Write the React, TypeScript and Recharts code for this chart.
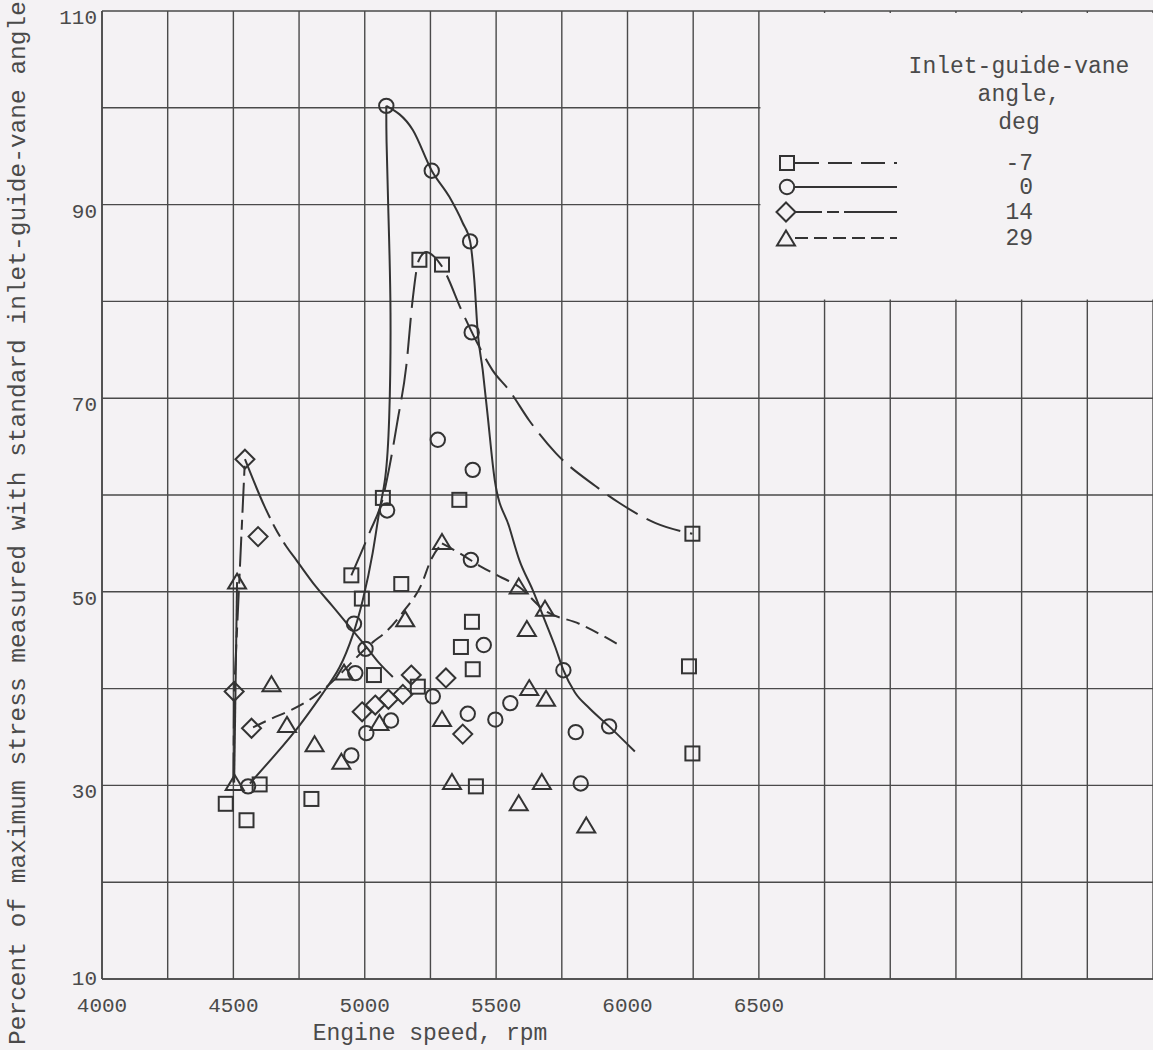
import React from 'react';
import { ComposedChart, Line, Scatter, XAxis, YAxis, CartesianGrid, ReferenceArea } from 'recharts';

// ---------- axis ticks ----------
const X_TICKS = [4000, 4250, 4500, 4750, 5000, 5250, 5500, 5750, 6000, 6250, 6500, 6750, 7000, 7250, 7500, 7750];
const X_LABELS = [4000, 4500, 5000, 5500, 6000, 6500];
const Y_TICKS = [10, 20, 30, 40, 50, 60, 70, 80, 90, 100, 110];
const Y_LABELS = [10, 30, 50, 70, 90, 110];

// ---------- measured points [rpm, percent] ----------
const SQUARE_POINTS: [number, number][] = [
  [4471, 28.1], [4550, 26.4], [4600, 30.1], [4797, 28.6], [4949, 51.7], [4989, 49.3],
  [5069, 59.7], [5035, 41.4], [5139, 50.8], [5202, 40.2], [5208, 84.3], [5294, 83.8],
  [5360, 59.5], [5408, 46.9], [5366, 44.3], [5411, 42.0], [5423, 29.9], [6247, 56.0],
  [6234, 42.3], [6247, 33.3],
];
const CIRCLE_POINTS: [number, number][] = [
  [4556, 29.9], [4949, 33.1], [5006, 35.4], [5100, 36.7], [4964, 41.6], [4959, 46.7],
  [5003, 44.1], [5085, 58.4], [5082, 100.2], [5255, 93.5], [5401, 86.2], [5407, 76.8],
  [5278, 65.7], [5411, 62.6], [5404, 53.3], [5453, 44.5], [5259, 39.2], [5392, 37.4],
  [5497, 36.8], [5554, 38.5], [5756, 41.9], [5803, 35.5], [5930, 36.1], [5822, 30.2],
];
const DIAMOND_POINTS: [number, number][] = [
  [4544, 63.7], [4594, 55.7], [4503, 39.7], [4569, 35.9], [4990, 37.6], [5040, 38.3],
  [5090, 38.9], [5145, 39.4], [5177, 41.4], [5309, 41.1], [5373, 35.3],
];
const TRIANGLE_POINTS: [number, number][] = [
  [4505, 30.2], [4514, 51.0], [4645, 40.4], [4704, 36.2], [4809, 34.2], [4911, 32.4],
  [4921, 41.6], [5056, 36.4], [5154, 47.1], [5294, 55.1], [5294, 36.8], [5332, 30.3],
  [5586, 50.5], [5686, 48.2], [5617, 46.1], [5626, 40.0], [5690, 38.9], [5586, 28.1],
  [5674, 30.3], [5843, 25.8],
];

// ---------- faired curves [rpm, percent] ----------
const CURVE_M7: [number, number][] = [
  [4949, 51.7], [5018, 56.1], [5069, 59.7], [5094, 62.9], [5125, 67.7], [5158, 73.3],
  [5182, 80.1], [5205, 84.2], [5234, 85.1], [5265, 84.6], [5294, 83.6], [5373, 78.8],
  [5436, 75.3], [5486, 72.9], [5550, 70.8], [5626, 67.7], [5728, 64.3], [5879, 60.9],
  [5968, 59.2], [6107, 57.1], [6247, 56.0],
];
const CURVE_0_LEFT: [number, number][] = [
  [4563, 30.2], [4657, 33.1], [4752, 36.2], [4840, 39.5], [4904, 42.2], [4954, 45.5],
  [4993, 49.2], [5030, 54.0], [5056, 58.4], [5078, 61.8], [5093, 68.0], [5098, 78.8],
  [5090, 89.1], [5083, 96.5], [5082, 100.2],
];
const CURVE_0_RIGHT: [number, number][] = [
  [5082, 100.2], [5183, 97.7], [5255, 93.5], [5322, 90.8], [5373, 88.1], [5401, 86.2],
  [5417, 82.2], [5430, 76.8], [5449, 72.9], [5467, 68.4], [5495, 61.5], [5550, 56.7],
  [5588, 53.3], [5639, 50.2], [5686, 47.0], [5725, 44.3], [5756, 41.9], [5800, 39.6],
  [5854, 38.0], [5930, 36.1], [6028, 33.5],
];
const CURVE_14_RISE: [number, number][] = [[4500, 30.3], [4503, 39.7], [4544, 63.7]];
const CURVE_14_FALL: [number, number][] = [
  [4544, 63.7], [4619, 58.8], [4657, 56.7], [4701, 54.7], [4739, 53.3], [4815, 50.5],
  [4878, 48.5], [4942, 46.4], [5006, 44.3], [5056, 42.6], [5107, 41.2],
];
const CURVE_29_A: [number, number][] = [[4503, 30.3], [4514, 51.0]];
const CURVE_29_RISE: [number, number][] = [
  [4575, 36.0], [4645, 36.9], [4721, 37.8], [4809, 39.2], [4851, 40.1], [5031, 44.8],
  [5082, 45.9], [5151, 48.1], [5215, 50.7], [5252, 53.3], [5294, 55.0],
];
const CURVE_29_FALL: [number, number][] = [
  [5294, 55.0], [5373, 53.8], [5442, 52.6], [5512, 51.6], [5588, 50.5], [5683, 48.1],
  [5816, 46.7], [5981, 44.3],
];

// ---------- legend ----------
const LEGEND_TITLE = ['Inlet-guide-vane', 'angle,', 'deg'];
const LEGEND_LABELS = ['-7', '0', '14', '29'];

const INK = '#333333';
const GRID = '#4a4a4a';
const BG = '#f4f2f4';
const TXT = '#4a4a4a';
const FONT = '"Liberation Mono", "DejaVu Sans Mono", monospace';

const toXY = (pts: [number, number][]) => pts.map(([x, y]) => ({ x, y }));

const SquareShape = (p: any) => (
  <rect x={p.cx - 7} y={p.cy - 7} width={14} height={14} fill="none" stroke={INK} strokeWidth={2} />
);
const CircleShape = (p: any) => (
  <circle cx={p.cx} cy={p.cy} r={7.2} fill="none" stroke={INK} strokeWidth={2} />
);
const DiamondShape = (p: any) => (
  <polygon
    points={`${p.cx},${p.cy - 9.5} ${p.cx + 9.5},${p.cy} ${p.cx},${p.cy + 9.5} ${p.cx - 9.5},${p.cy}`}
    fill="none" stroke={INK} strokeWidth={2}
  />
);
const TriangleShape = (p: any) => (
  <polygon
    points={`${p.cx},${p.cy - 8.5} ${p.cx + 9},${p.cy + 6.5} ${p.cx - 9},${p.cy + 6.5}`}
    fill="none" stroke={INK} strokeWidth={2}
  />
);

const XTick = (p: any) => {
  const v = p.payload.value;
  if (!X_LABELS.includes(v)) return null;
  return (
    <text x={p.x} y={p.y + 33} textAnchor="middle" fontFamily={FONT} fontSize={21} fill={TXT}>
      {v}
    </text>
  );
};
const YTick = (p: any) => {
  const v = p.payload.value;
  if (!Y_LABELS.includes(v)) return null;
  const dy = v === 10 ? 6 : 13;
  return (
    <text x={97} y={p.y + dy} textAnchor="end" fontFamily={FONT} fontSize={21} fill={TXT}>
      {v}
    </text>
  );
};

const lineCommon = {
  dataKey: 'y',
  stroke: INK,
  strokeWidth: 2,
  dot: false,
  activeDot: false,
  isAnimationActive: false,
  legendType: 'none' as const,
};

function Legend() {
  const ys = [163, 187, 212, 238];
  const dashes = ['24 9', undefined, '27 5 12 5 80', '13 6'];
  return (
    <svg
      width={1153}
      height={1050}
      style={{ position: 'absolute', left: 0, top: 0, pointerEvents: 'none' }}
    >
      {LEGEND_TITLE.map((t, i) => (
        <text key={t} x={1019} y={73 + i * 28} textAnchor="middle" fontFamily={FONT} fontSize={23} fill={TXT}>
          {t}
        </text>
      ))}
      {ys.map((y, i) => (
        <line key={i} x1={795} x2={897} y1={y} y2={y} stroke={INK} strokeWidth={2} strokeDasharray={dashes[i]} />
      ))}
      <SquareShape cx={787} cy={ys[0]} />
      <CircleShape cx={787} cy={ys[1]} />
      <DiamondShape cx={786} cy={ys[2]} />
      <TriangleShape cx={786} cy={ys[3] + 1} />
      {LEGEND_LABELS.map((t, i) => (
        <text key={t} x={1033} y={ys[i] + 7} textAnchor="end" fontFamily={FONT} fontSize={23} fill={TXT}>
          {t}
        </text>
      ))}
    </svg>
  );
}

export default function App() {
  return (
    <div style={{ position: 'absolute', left: 0, top: 0, width: 1153, height: 1050, background: BG, overflow: 'hidden' }}>
      <ComposedChart width={1153} height={1050} margin={{ top: 11, right: 0, left: 0, bottom: 0 }}>
        <CartesianGrid stroke={GRID} strokeWidth={1.4} fill="none" />
        <XAxis
          type="number"
          dataKey="x"
          domain={[4000, 8000]}
          ticks={X_TICKS}
          interval={0}
          allowDataOverflow
          height={71}
          tickLine={false}
          tickSize={0}
          tickMargin={0}
          axisLine={{ stroke: GRID, strokeWidth: 1.6 }}
          tick={<XTick />}
          label={{
            content: () => (
              <text x={430} y={1040} textAnchor="middle" fontFamily={FONT} fontSize={23} fill={TXT}>
                Engine speed, rpm
              </text>
            ),
          }}
        />
        <YAxis
          type="number"
          dataKey="y"
          domain={[10, 110]}
          ticks={Y_TICKS}
          interval={0}
          allowDataOverflow
          width={102}
          tickLine={false}
          tickSize={0}
          tickMargin={0}
          axisLine={{ stroke: GRID, strokeWidth: 1.6 }}
          tick={<YTick />}
          label={{
            content: () => (
              <text
                x={25}
                y={523}
                transform="rotate(-90, 25, 523)"
                textAnchor="middle"
                fontFamily={FONT}
                fontSize={24.5}
                fill={TXT}
              >
                Percent of maximum stress measured with standard inlet-guide-vane angle
              </text>
            ),
          }}
        />
        <ReferenceArea x1={6506} x2={8000} y1={80.2} y2={109.8} fill={BG} fillOpacity={1} stroke="none" ifOverflow="visible" />

        <Line {...lineCommon} data={toXY(CURVE_M7)} type="monotone" strokeDasharray="36 10" />
        <Line {...lineCommon} data={toXY(CURVE_0_LEFT)} type="natural" />
        <Line {...lineCommon} data={toXY(CURVE_0_RIGHT)} type="monotone" />
        <Line {...lineCommon} data={toXY(CURVE_14_RISE)} type="linear" strokeDasharray="30 7 10 7" />
        <Line {...lineCommon} data={toXY(CURVE_14_FALL)} type="monotone" strokeDasharray="64 7 14 7 400" />
        <Line {...lineCommon} data={toXY(CURVE_29_A)} type="linear" />
        <Line {...lineCommon} data={toXY(CURVE_29_RISE)} type="monotone" strokeDasharray="14 7" />
        <Line {...lineCommon} data={toXY(CURVE_29_FALL)} type="monotone" strokeDasharray="14 7" />

        <Scatter data={toXY(SQUARE_POINTS)} dataKey="y" shape={<SquareShape />} isAnimationActive={false} legendType="none" />
        <Scatter data={toXY(CIRCLE_POINTS)} dataKey="y" shape={<CircleShape />} isAnimationActive={false} legendType="none" />
        <Scatter data={toXY(DIAMOND_POINTS)} dataKey="y" shape={<DiamondShape />} isAnimationActive={false} legendType="none" />
        <Scatter data={toXY(TRIANGLE_POINTS)} dataKey="y" shape={<TriangleShape />} isAnimationActive={false} legendType="none" />
      </ComposedChart>
      <Legend />
    </div>
  );
}
